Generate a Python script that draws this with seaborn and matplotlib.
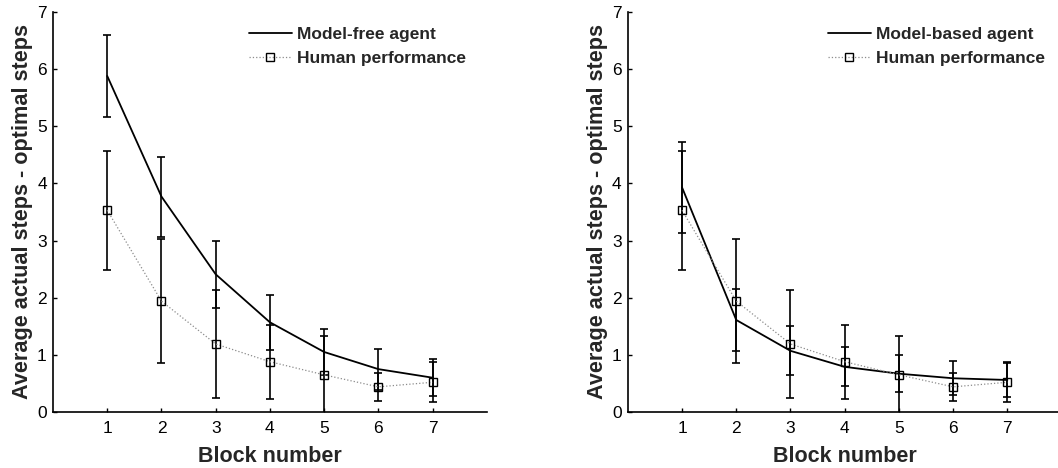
import numpy as np
import pandas as pd
import matplotlib
matplotlib.use("Agg")
import matplotlib.pyplot as plt
import seaborn as sns

# block numbers
blocks = [1, 2, 3, 4, 5, 6, 7]

# human performance (same in both panels)
human_mean = [3.53, 1.94, 1.19, 0.88, 0.65, 0.44, 0.52]
human_err = [1.04, 1.08, 0.95, 0.65, 0.68, 0.24, 0.35]

# model-free agent
mf_mean = [5.88, 3.77, 2.41, 1.57, 1.05, 0.75, 0.60]
mf_err = [0.72, 0.70, 0.59, 0.48, 0.40, 0.36, 0.32]

# model-based agent
mb_mean = [3.93, 1.61, 1.07, 0.79, 0.67, 0.59, 0.56]
mb_err = [0.80, 0.54, 0.43, 0.34, 0.32, 0.30, 0.29]

sns.set_style("ticks")
plt.rcParams['font.family'] = ['Liberation Sans', 'DejaVu Sans']
plt.rcParams['xtick.direction'] = 'in'
plt.rcParams['ytick.direction'] = 'in'
plt.rcParams['xtick.major.size'] = 3
plt.rcParams['ytick.major.size'] = 3

fig = plt.figure(figsize=(10.58, 4.68), dpi=100)
ax1 = fig.add_axes([0.0501, 0.1197, 0.410, 0.8547])
ax2 = fig.add_axes([0.5934, 0.1197, 0.410, 0.8547])

panels = [(ax1, mf_mean, mf_err, 'Model-free agent', 0.435),
          (ax2, mb_mean, mb_err, 'Model-based agent', 0.445)]

for ax, m_mean, m_err, m_label, leg_x in panels:
    df = pd.DataFrame({'block': blocks, 'model': m_mean, 'human': human_mean})
    # error bars first
    ax.errorbar(blocks, m_mean, yerr=m_err, fmt='none', ecolor='black',
                elinewidth=1.2, capsize=3.2, capthick=1.2, zorder=2)
    ax.errorbar(blocks, human_mean, yerr=human_err, fmt='none', ecolor='black',
                elinewidth=1.2, capsize=3.2, capthick=1.2, zorder=2)
    sns.lineplot(data=df, x='block', y='model', ax=ax, color='black',
                 linewidth=1.3, label=m_label, zorder=3)
    sns.lineplot(data=df, x='block', y='human', ax=ax, color='#8c8c8c',
                 linewidth=0.9, linestyle=':', marker='s', markersize=5.5,
                 markerfacecolor='none', markeredgecolor='black',
                 markeredgewidth=1.0, label='Human performance', zorder=4)
    ax.set_xlim(0, 8)
    ax.set_ylim(0, 7)
    ax.set_xticks(blocks)
    ax.set_yticks(range(0, 8))
    ax.tick_params(labelsize=12.5, width=1, colors='black')
    ax.tick_params(axis='y', pad=4.5)
    ax.tick_params(axis='x', pad=6.5)
    ax.set_xlabel('Block number', fontsize=15.5, fontweight='bold', labelpad=7)
    ax.set_ylabel('Average actual steps - optimal steps', fontsize=15.6,
                  fontweight='bold', labelpad=3)
    sns.despine(ax=ax)
    for s in ['left', 'bottom']:
        ax.spines[s].set_linewidth(1.2)
        ax.spines[s].set_color('black')
    ax.legend(loc='upper left', bbox_to_anchor=(leg_x, 0.98), frameon=False,
              handlelength=2.5, prop={'weight': 'bold', 'size': 12.5},
              handletextpad=0.3, labelspacing=0.5, borderaxespad=0)

fig.savefig('out.png', dpi=100)
